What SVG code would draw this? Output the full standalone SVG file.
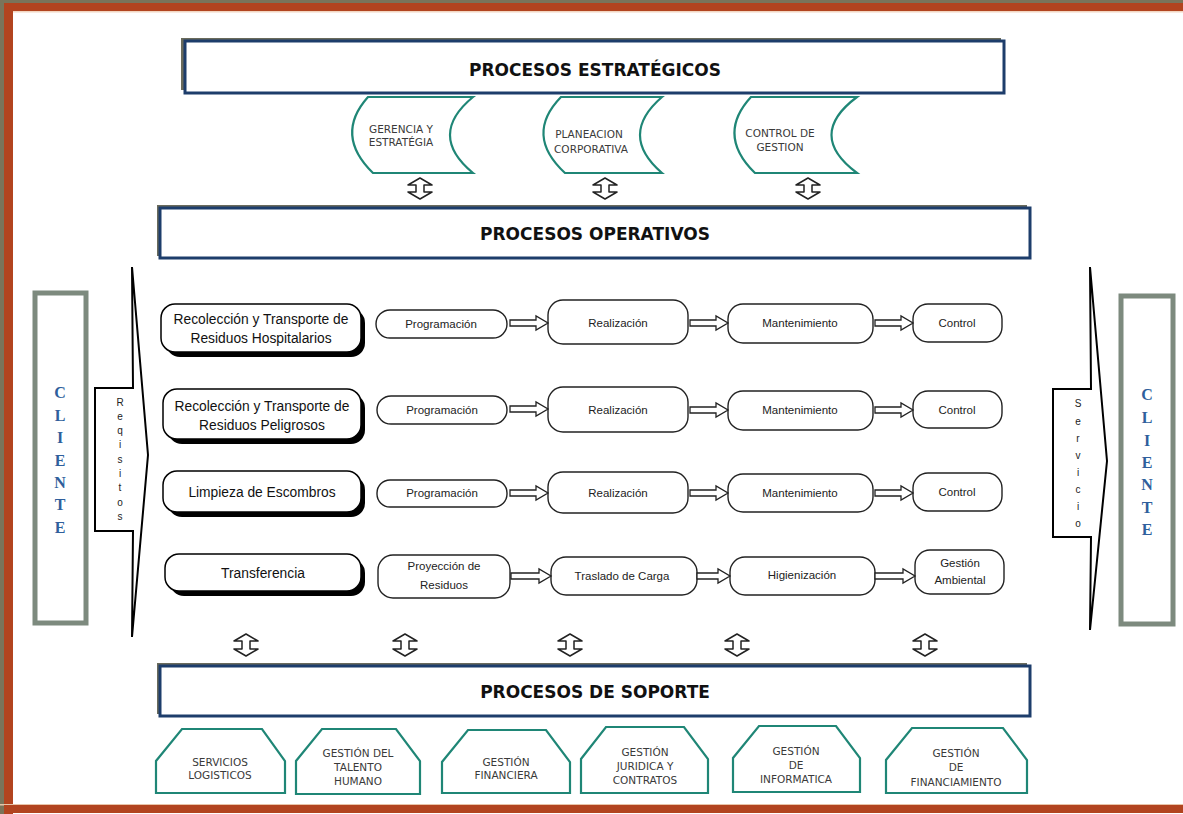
<svg xmlns="http://www.w3.org/2000/svg" width="1183" height="814" viewBox="0 0 1183 814">
<defs>
<style>
.hdr{fill:#fff;stroke:#1d3d6b;stroke-width:3}
.hsh{fill:#6a6b5c}
.htx{font-family:"DejaVu Sans",sans-serif;font-weight:bold;font-size:17px;fill:#111;text-anchor:middle}
.teal{fill:#fff;stroke:#1f8676;stroke-width:2.2}
.stx{font-family:"DejaVu Sans",sans-serif;font-size:10.5px;fill:#3a3a3a;text-anchor:middle}
.cli{fill:#fff;stroke:#7d8a7e;stroke-width:5}
.clt{font-family:"Liberation Serif",serif;font-weight:bold;font-size:16px;fill:#2f5f9c;text-anchor:middle}
.vt{font-family:"Liberation Sans",sans-serif;font-size:10px;fill:#222;text-anchor:middle}
.big{fill:#fff;stroke:#000;stroke-width:2;stroke-linejoin:miter}
.head{fill:#fff;stroke:#000;stroke-width:1.5}
.hsh2{fill:#000}
.htxt{font-family:"Liberation Sans",sans-serif;font-size:13.8px;fill:#111;text-anchor:middle}
.box{fill:#fff;stroke:#222;stroke-width:1.4}
.btx{font-family:"Liberation Sans",sans-serif;font-size:11.5px;fill:#222;text-anchor:middle}
.arr{fill:#fff;stroke:#222;stroke-width:1.3;stroke-linejoin:miter}
.dar{fill:#fff;stroke:#222;stroke-width:1.5;stroke-linejoin:round}
</style>
</defs>
<rect width="1183" height="814" fill="#fff"/>
<g id="frame">
<rect x="0" y="0" width="1183" height="3" fill="#7a745a"/>
<rect x="0" y="3" width="1183" height="8" fill="#b2441f"/>
<rect x="0" y="0" width="4" height="814" fill="#7a745a"/>
<rect x="4" y="3" width="9" height="811" fill="#b2441f"/>
<rect x="13" y="11" width="1170" height="1.5" fill="#f2d6c2"/>
<rect x="0" y="804" width="1183" height="1.5" fill="#e8c4a8"/>
<rect x="4" y="805" width="1179" height="8" fill="#b2441f"/>
</g>

<g id="estrategicos">
<rect class="hsh" x="181" y="38" width="820" height="52"/>
<rect class="hdr" x="185" y="41" width="819" height="52"/>
<text class="htx" x="595" y="76">PROCESOS ESTRATÉGICOS</text>
</g>
<g id="gerencia">
<path class="teal" d="M368 97 L473 97 Q427 135 473 173 L373 173 Q334 135 368 97 Z"/>
<text class="stx" x="401" y="133">GERENCIA Y</text>
<text class="stx" x="401" y="146">ESTRATÉGIA</text>
</g>
<g id="planeacion">
<path class="teal" d="M561 97 L662 97 Q618 135 662 173 L565 173 Q524 135 561 97 Z"/>
<text class="stx" x="589" y="138">PLANEACION</text>
<text class="stx" x="591" y="153">CORPORATIVA</text>
</g>
<g id="control-gestion">
<path class="teal" d="M751 97 L857 97 Q806 135 857 173 L755 173 Q716 135 751 97 Z"/>
<text class="stx" x="780" y="137">CONTROL DE</text>
<text class="stx" x="780" y="151">GESTION</text>
</g>

<g id="operativos">
<rect class="hsh" x="157" y="205" width="870" height="51"/>
<rect class="hdr" x="160" y="208" width="870" height="50"/>
<text class="htx" x="595" y="240">PROCESOS OPERATIVOS</text>
</g>

<g id="cliente-izq">
<rect class="cli" x="35" y="293" width="51" height="330"/>
<text class="clt" x="60" y="398">C</text>
<text class="clt" x="60" y="421">L</text>
<text class="clt" x="60" y="443">I</text>
<text class="clt" x="60" y="466">E</text>
<text class="clt" x="60" y="488">N</text>
<text class="clt" x="60" y="510">T</text>
<text class="clt" x="60" y="533">E</text>
</g>
<g id="requisitos">
<path class="big" d="M95 388 L133 388 L132 267 L148 455 L132 637 L133 531 L95 531 Z"/>
<text class="vt" x="120" y="406">R</text>
<text class="vt" x="120" y="420">e</text>
<text class="vt" x="120" y="434">q</text>
<text class="vt" x="120" y="448">i</text>
<text class="vt" x="120" y="463">s</text>
<text class="vt" x="120" y="477">i</text>
<text class="vt" x="120" y="491">t</text>
<text class="vt" x="120" y="506">o</text>
<text class="vt" x="120" y="520">s</text>
</g>

<g id="servicio">
<path class="big" d="M1053 389 L1091 389 L1090 267 L1107 461 L1090 630 L1091 537 L1053 537 Z"/>
<text class="vt" x="1078" y="407">S</text>
<text class="vt" x="1078" y="425">e</text>
<text class="vt" x="1078" y="442">r</text>
<text class="vt" x="1078" y="459">v</text>
<text class="vt" x="1078" y="476">i</text>
<text class="vt" x="1078" y="493">c</text>
<text class="vt" x="1078" y="510">i</text>
<text class="vt" x="1078" y="527">o</text>
</g>
<g id="cliente-der">
<rect class="cli" x="1121" y="296" width="52" height="328"/>
<text class="clt" x="1147" y="400">C</text>
<text class="clt" x="1147" y="423">L</text>
<text class="clt" x="1147" y="446">I</text>
<text class="clt" x="1147" y="468">E</text>
<text class="clt" x="1147" y="490">N</text>
<text class="clt" x="1147" y="513">T</text>
<text class="clt" x="1147" y="535">E</text>
</g>

<g id="hospitalarios">
<rect class="hsh2" x="166" y="309" width="199" height="48" rx="14"/>
<rect class="head" x="161" y="304" width="200" height="48" rx="14"/>
<text class="htxt" x="261" y="324">Recolección y Transporte de</text>
<text class="htxt" x="261" y="343">Residuos Hospitalarios</text>
</g>
<g id="peligrosos">
<rect class="hsh2" x="168" y="394" width="197" height="50" rx="14"/>
<rect class="head" x="163" y="389" width="198" height="50" rx="14"/>
<text class="htxt" x="262" y="411">Recolección y Transporte de</text>
<text class="htxt" x="262" y="430">Residuos Peligrosos</text>
</g>
<g id="escombros">
<rect class="hsh2" x="168" y="476" width="197" height="41" rx="14"/>
<rect class="head" x="163" y="471" width="198" height="41" rx="14"/>
<text class="htxt" x="262" y="497">Limpieza de Escombros</text>
</g>
<g id="transferencia">
<rect class="hsh2" x="170" y="559" width="195" height="37" rx="14"/>
<rect class="head" x="165" y="554" width="196" height="37" rx="14"/>
<text class="htxt" x="263" y="578">Transferencia</text>
</g>

<g id="r1-programacion"><rect class="box" x="376" y="310" width="131" height="28" rx="14"/><text class="btx" x="441" y="328">Programación</text></g>
<g id="r1-realizacion"><rect class="box" x="548" y="300" width="140" height="44" rx="15"/><text class="btx" x="618" y="327">Realización</text></g>
<g id="r1-mantenimiento"><rect class="box" x="728" y="304" width="145" height="39" rx="15"/><text class="btx" x="800" y="327">Mantenimiento</text></g>
<g id="r1-control"><rect class="box" x="913" y="304" width="89" height="38" rx="15"/><text class="btx" x="957" y="327">Control</text></g>
<g id="r2-programacion"><rect class="box" x="377" y="396" width="130" height="28" rx="14"/><text class="btx" x="442" y="414">Programación</text></g>
<g id="r2-realizacion"><rect class="box" x="548" y="387" width="140" height="45" rx="15"/><text class="btx" x="618" y="414">Realización</text></g>
<g id="r2-mantenimiento"><rect class="box" x="728" y="391" width="145" height="39" rx="15"/><text class="btx" x="800" y="414">Mantenimiento</text></g>
<g id="r2-control"><rect class="box" x="913" y="391" width="89" height="37" rx="15"/><text class="btx" x="957" y="414">Control</text></g>
<g id="r3-programacion"><rect class="box" x="377" y="480" width="130" height="27" rx="13"/><text class="btx" x="442" y="497">Programación</text></g>
<g id="r3-realizacion"><rect class="box" x="548" y="472" width="140" height="41" rx="15"/><text class="btx" x="618" y="497">Realización</text></g>
<g id="r3-mantenimiento"><rect class="box" x="728" y="474" width="145" height="38" rx="15"/><text class="btx" x="800" y="497">Mantenimiento</text></g>
<g id="r3-control"><rect class="box" x="913" y="473" width="89" height="38" rx="15"/><text class="btx" x="957" y="496">Control</text></g>
<g id="r4-proyeccion"><rect class="box" x="378" y="555" width="132" height="43" rx="15"/><text class="btx" x="444" y="570">Proyección de</text><text class="btx" x="444" y="589">Residuos</text></g>
<g id="r4-traslado"><rect class="box" x="551" y="557" width="146" height="38" rx="15"/><text class="btx" x="622" y="580">Traslado de Carga</text></g>
<g id="r4-higienizacion"><rect class="box" x="730" y="557" width="145" height="38" rx="15"/><text class="btx" x="802" y="579">Higienización</text></g>
<g id="r4-gestion-ambiental"><rect class="box" x="915" y="550" width="89" height="44" rx="15"/><text class="btx" x="960" y="567">Gestión</text><text class="btx" x="960" y="584">Ambiental</text></g>

<g id="soporte">
<rect class="hsh" x="157" y="663" width="870" height="51"/>
<rect class="hdr" x="160" y="666" width="870" height="50"/>
<text class="htx" x="595" y="698">PROCESOS DE SOPORTE</text>
</g>

<g id="servicios-logisticos">
<path class="teal" d="M156 793 L156 761 L182 729 L262 729 L285 761 L285 793 Z"/>
<text class="stx" x="220" y="766">SERVICIOS</text><text class="stx" x="220" y="779">LOGISTICOS</text>
</g>
<g id="talento-humano">
<path class="teal" d="M296 794 L296 761 L322 729 L396 729 L420 761 L420 794 Z"/>
<text class="stx" x="358" y="757">GESTIÓN DEL</text><text class="stx" x="358" y="771">TALENTO</text><text class="stx" x="358" y="785">HUMANO</text>
</g>
<g id="gestion-financiera">
<path class="teal" d="M442 793 L442 762 L468 730 L546 730 L570 762 L570 793 Z"/>
<text class="stx" x="506" y="766">GESTIÓN</text><text class="stx" x="506" y="779">FINANCIERA</text>
</g>
<g id="juridica-contratos">
<path class="teal" d="M581 793 L581 759 L606 727 L684 727 L708 759 L708 793 Z"/>
<text class="stx" x="645" y="756">GESTIÓN</text><text class="stx" x="645" y="770">JURIDICA Y</text><text class="stx" x="645" y="784">CONTRATOS</text>
</g>
<g id="gestion-informatica">
<path class="teal" d="M733 792 L733 758 L759 726 L836 726 L860 758 L860 792 Z"/>
<text class="stx" x="796" y="755">GESTIÓN</text><text class="stx" x="796" y="769">DE</text><text class="stx" x="796" y="783">INFORMATICA</text>
</g>
<g id="gestion-financiamiento">
<path class="teal" d="M886 793 L886 760 L912 728 L1003 728 L1027 760 L1027 793 Z"/>
<text class="stx" x="956" y="757">GESTIÓN</text><text class="stx" x="956" y="771">DE</text><text class="stx" x="956" y="786">FINANCIAMIENTO</text>
</g>

<g id="connectors">
<path class="arr" d="M510 320 L536 320 L536 316 L548 323 L536 330 L536 326 L510 326 Z"/>
<path class="arr" d="M690 320 L716 320 L716 316 L728 323 L716 330 L716 326 L690 326 Z"/>
<path class="arr" d="M875 320 L901 320 L901 316 L913 323 L901 330 L901 326 L875 326 Z"/>
<path class="arr" d="M510 406 L536 406 L536 402 L548 409 L536 416 L536 412 L510 412 Z"/>
<path class="arr" d="M690 407 L716 407 L716 403 L728 410 L716 417 L716 413 L690 413 Z"/>
<path class="arr" d="M875 407 L901 407 L901 403 L913 410 L901 417 L901 413 L875 413 Z"/>
<path class="arr" d="M510 490 L536 490 L536 486 L548 493 L536 500 L536 496 L510 496 Z"/>
<path class="arr" d="M690 490 L716 490 L716 486 L728 493 L716 500 L716 496 L690 496 Z"/>
<path class="arr" d="M875 490 L901 490 L901 486 L913 493 L901 500 L901 496 L875 496 Z"/>
<path class="arr" d="M511 573 L539 573 L539 569 L551 576 L539 583 L539 579 L511 579 Z"/>
<path class="arr" d="M697 573 L718 573 L718 569 L730 576 L718 583 L718 579 L697 579 Z"/>
<path class="arr" d="M875 573 L903 573 L903 569 L915 576 L903 583 L903 579 L875 579 Z"/>
<path class="dar" d="M420 178 L432 185 L424 185 L424 192 L432 192 L420 199 L408 192 L416 192 L416 185 L408 185 Z"/>
<path class="dar" d="M605 178 L617 185 L609 185 L609 192 L617 192 L605 199 L593 192 L601 192 L601 185 L593 185 Z"/>
<path class="dar" d="M808 178 L820 185 L812 185 L812 192 L820 192 L808 199 L796 192 L804 192 L804 185 L796 185 Z"/>
<path class="dar" d="M246 634 L258 641 L250 641 L250 649 L258 649 L246 656 L234 649 L242 649 L242 641 L234 641 Z"/>
<path class="dar" d="M405 634 L417 641 L409 641 L409 649 L417 649 L405 656 L393 649 L401 649 L401 641 L393 641 Z"/>
<path class="dar" d="M570 634 L582 641 L574 641 L574 649 L582 649 L570 656 L558 649 L566 649 L566 641 L558 641 Z"/>
<path class="dar" d="M737 634 L749 641 L741 641 L741 649 L749 649 L737 656 L725 649 L733 649 L733 641 L725 641 Z"/>
<path class="dar" d="M925 634 L937 641 L929 641 L929 649 L937 649 L925 656 L913 649 L921 649 L921 641 L913 641 Z"/>
</g>
</svg>
